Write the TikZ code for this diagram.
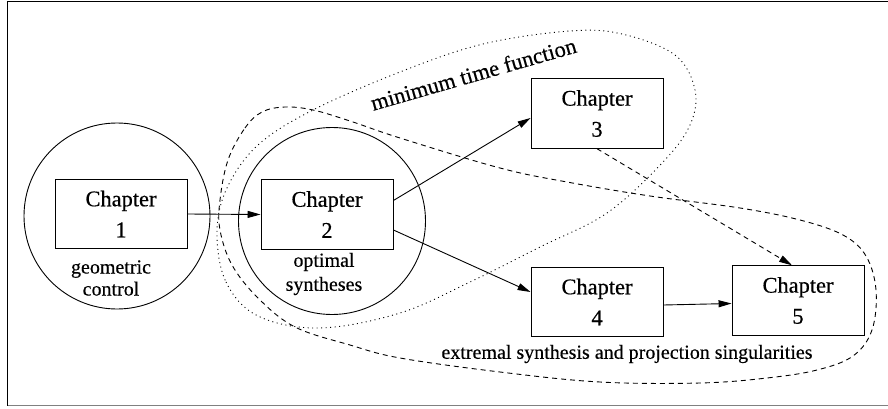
\documentclass[tikz,border=0pt]{standalone}
\usepackage{fontspec}
\setmainfont{Liberation Serif}
\newfontfamily\tms[FakeBold=0.4]{Liberation Serif}
\usetikzlibrary{arrows.meta,calc}
\begin{document}
\begin{tikzpicture}[x=1pt,y=-1pt,
  line width=0.9pt,
  chap/.style={draw,minimum width=132pt,minimum height=69.5pt,inner sep=0pt,align=center,
    font=\tms\fontsize{22.4}{31}\selectfont},
  ring/.style={draw,circle,inner sep=0pt},
  small/.style={align=center,font=\tms\fontsize{20}{22}\selectfont},
  arr/.style={-{Triangle[length=13pt,width=7pt]}},
  dsh/.style={dash pattern=on 5pt off 4pt},
  dtt/.style={dash pattern=on 1pt off 3.5pt}]
\useasboundingbox (0,0) rectangle (888,409);
% frame
\coordinate (ftl) at (7.5,1.5);
\coordinate (ftr) at (888,1.5);
\coordinate (fbl) at (7.5,405.5);
\coordinate (fbr) at (888,405.5);
\draw[line width=1.3pt] (ftr) -- (ftl) -- (fbl);
\draw[line width=1.6pt,gray] (fbl) -- (fbr);
% circles
\node[ring,minimum size=186pt] (c1) at (117,216) {};
\node[ring,minimum size=187pt] (c2) at (332,221) {};
% boxes
\node[chap] (b1) at (121,214) {Chapter\\1};
\node[chap] (b2) at (327,214.5) {Chapter\\2};
\node[chap] (b3) at (597,113.5) {Chapter\\3};
\node[chap] (b4) at (597,302) {Chapter\\4};
\node[chap] (b5) at (798,300.5) {Chapter\\5};
% circle labels
\node[small] (l1) at (111,278) {geometric\\control};
\node[small,font=\tms\fontsize{20}{24}\selectfont] (l2) at (324,274) {optimal\\syntheses};
% arrows
\draw[arr] (b1.east) -- (b2.west);
\draw[arr] ($(b2.east)+(0,-14)$) -- ($(b3.west)+(0,4.5)$);
\draw[arr] ($(b2.east)+(0,15.5)$) -- ($(b4.west)+(0,-10)$);
\draw[arr] ($(b4.east)+(0,3)$) -- ($(b5.west)+(0,3)$);
\draw[arr,dsh] (b3.south) -- ($(b5.north)+(-6,0)$);
% dotted loop
\draw[dtt] plot[smooth cycle,tension=0.6] coordinates {
 (217,232) (226,282) (258,316) (320,328) (400,313) (470,282) (540,247)
 (607,213) (663,162) (690,125) (695,90) (675,55) (622,34) (570,31)
 (483,44) (400,72) (313,110) (258,145) (227,188)};
% dashed loop
\draw[dsh] plot[smooth cycle,tension=0.6] coordinates {
 (228,160) (245,128) (262,112) (285,107) (313,110) (350,121) (400,138)
 (500,168) (567,182) (650,196) (740,208) (800,220) (843,235) (866,256)
 (876,290) (872,330) (853,356) (817,370) (767,378) (700,383) (600,382)
 (500,372) (400,358) (350,345) (295,327) (258,298) (232,265) (220,230)
 (220,200)};
% loop labels
\node[anchor=base,rotate=16,inner sep=0pt,font=\tms\fontsize{22.4}{26}\selectfont] (mtf) at (475.5,81.5) {minimum time function};
\node[inner sep=0pt,font=\tms\fontsize{20}{22}\selectfont] (ext) at (627,354) {extremal synthesis and projection singularities};
\end{tikzpicture}
\end{document}
